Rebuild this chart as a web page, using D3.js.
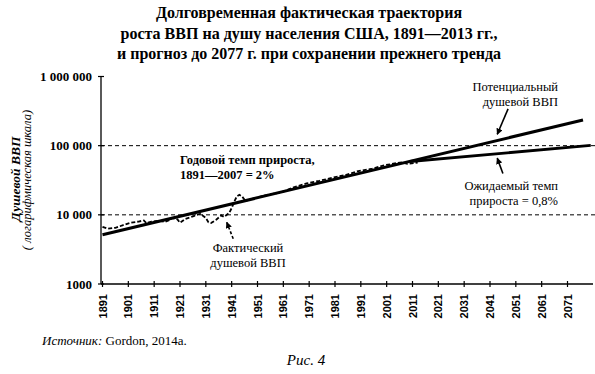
<!DOCTYPE html>
<html>
<head>
<meta charset="utf-8">
<script src="https://cdn.jsdelivr.net/npm/d3@7"></script>
<style>
body{margin:0;background:#fff;}
svg{display:block;}
.serif{font-family:"Liberation Serif","Times New Roman",serif;}
</style>
</head>
<body>
<svg class="svg" width="595" height="374"></svg>
<script>
// фактический душевой ВВП (оценка по рисунку)
var factYears=[1891,1893,1896,1899,1902,1905,1907,1908,1910,1913,1915,1917,1918,1920,1921,1923,1926,1929,1930,1931,1932,1933,1935,1937,1938,1940,1941,1942,1943,1944,1945,1946,1947,1950,1955,1960,1965,1970,1975,1980,1985,1990,1995,2000,2005,2007,2009,2013];
var factValues=[6700,6300,6500,7100,7700,8000,8300,7600,8000,8200,7900,8400,9000,8600,7700,8700,9500,10400,9600,9000,7800,7600,8500,9800,9300,10600,12500,15500,18500,19500,18500,16500,16200,17500,19500,21000,25000,28500,31000,34500,37500,43000,46000,52000,56000,57500,54500,57000];
// тренд 2% и прогноз 0,8%
var trendYears=[1891,2077];
var trendValues=[5150,235000];
var expYears=[2010,2080];
var expValues=[59000,101000];
var tickYears=d3.range(1891,2072,10);
var yTicks=[1000,10000,100000,1000000];
var gridValues=[10000,100000];
// стрелки аннотаций: [год0, знач0, год1, знач1]
var arrowPot=[2048,340000,2043.8,146000];
var arrowExp=[2046,39500,2043.8,66000];
var arrowFact=[1941.6,4500,1939.1,7800];

var svg=d3.select(".svg");
var x=d3.scaleLinear().domain([1891,2071]).range([102.5,567.5]);
var y=d3.scaleLog().domain([1000,1000000]).range([284,76.5]);
var axisL=101, axisR=593;

svg.append("defs").append("marker").attr("id","ah")
  .attr("viewBox","0 0 10 10").attr("refX",9).attr("refY",5)
  .attr("markerWidth",4).attr("markerHeight",4).attr("orient","auto")
  .append("path").attr("d","M0,0 L10,5 L0,10 Z").attr("fill","#000");

// заголовок
var title=["Долговременная фактическая траектория","роста ВВП на душу населения США, 1891—2013 гг.,","и прогноз до 2077 г. при сохранении прежнего тренда"];
svg.append("g").selectAll("text").data(title).enter().append("text")
  .attr("class","serif").attr("x",309).attr("y",function(d,i){return 18+i*20.5;})
  .attr("text-anchor","middle").attr("font-size",16).attr("font-weight","bold")
  .text(function(d){return d;});

// сетка
svg.append("g").selectAll("line").data(gridValues).enter().append("line")
  .attr("x1",axisL).attr("x2",595).attr("y1",function(d){return y(d);}).attr("y2",function(d){return y(d);})
  .attr("stroke","#000").attr("stroke-width",1).attr("stroke-dasharray","4,3");

// оси
svg.append("line").attr("x1",axisL).attr("x2",axisL).attr("y1",y(1000000)).attr("y2",y(1000)).attr("stroke","#000").attr("stroke-width",1.3);
svg.append("line").attr("x1",axisL).attr("x2",axisR).attr("y1",y(1000)).attr("y2",y(1000)).attr("stroke","#000").attr("stroke-width",1.3);
var fmt=function(d){ return d>=10000? d3.format(",")(d).replace(/,/g," ") : String(d); };
var yg=svg.append("g");
yg.selectAll("line").data(yTicks).enter().append("line")
  .attr("x1",axisL-3).attr("x2",axisL+3).attr("y1",function(d){return y(d);}).attr("y2",function(d){return y(d);})
  .attr("stroke","#000").attr("stroke-width",1.2);
yg.selectAll("text").data(yTicks).enter().append("text")
  .attr("class","serif").attr("x",92).attr("y",function(d){return y(d)+4.5;})
  .attr("text-anchor","end").attr("font-size",13).attr("font-weight","bold")
  .text(fmt);
var xg=svg.append("g");
xg.selectAll("line").data(tickYears).enter().append("line")
  .attr("x1",function(d){return x(d);}).attr("x2",function(d){return x(d);})
  .attr("y1",y(1000)-3).attr("y2",y(1000)+3).attr("stroke","#000").attr("stroke-width",1.2);
xg.selectAll("text").data(tickYears).enter().append("text")
  .attr("transform",function(d){return "translate("+(x(d)+4)+",294) rotate(-90)";})
  .attr("text-anchor","end").attr("font-family","Liberation Sans, Arial, sans-serif")
  .attr("font-size",11).attr("font-weight","bold").text(function(d){return d;});

// подпись оси Y
svg.append("text").attr("class","serif").attr("transform","translate(20,179) rotate(-90)")
  .attr("text-anchor","middle").attr("font-size",13.5).attr("font-weight","bold").attr("font-style","italic")
  .text("Душевой ВВП");
svg.append("text").attr("class","serif").attr("transform","translate(31,180) rotate(-90)")
  .attr("text-anchor","middle").attr("font-size",12.5).attr("font-style","italic")
  .text("( логарифмическая шкала)");

// линии
var line=d3.line().x(function(d){return x(d[0]);}).y(function(d){return y(d[1]);});
svg.append("path").attr("d",line(d3.zip(trendYears,trendValues))).attr("fill","none").attr("stroke","#000").attr("stroke-width",3);
svg.append("path").attr("d",line(d3.zip(expYears,expValues))).attr("fill","none").attr("stroke","#000").attr("stroke-width",2.8);
svg.append("path").attr("d",line(d3.zip(factYears,factValues))).attr("fill","none").attr("stroke","#000").attr("stroke-width",1.8).attr("stroke-dasharray","4,2");

// стрелки
function arrow(a,dash){
  svg.append("line").attr("x1",x(a[0])).attr("y1",y(a[1])).attr("x2",x(a[2])).attr("y2",y(a[3]))
    .attr("stroke","#000").attr("stroke-width",1.6).attr("stroke-dasharray",dash?"3,2":null)
    .attr("marker-end","url(#ah)");
}
arrow(arrowPot,false);
arrow(arrowExp,false);
arrow(arrowFact,true);

// подписи
function label(lines,xx,yy,anchor,bold,size){
  svg.append("g").selectAll("text").data(lines).enter().append("text").attr("class","serif")
    .attr("x",xx).attr("y",function(d,i){return yy+i*15;}).attr("text-anchor",anchor)
    .attr("font-size",size).attr("font-weight",bold?"bold":"normal").text(function(d){return d;});
}
label(["Годовой темп прироста,","1891—2007 = 2%"],180,164,"start",true,12.5);
label(["Фактический","душевой ВВП"],248,252,"middle",false,12.5);
label(["Потенциальный","душевой ВВП"],558,91,"end",false,12.5);
label(["Ожидаемый темп","прироста = 0,8%"],558,190,"end",false,12.5);

// источник
var src=svg.append("text").attr("class","serif").attr("x",42).attr("y",345).attr("font-size",13);
src.append("tspan").attr("font-style","italic").text("Источник:");
src.append("tspan").text(" Gordon, 2014a.");
svg.append("text").attr("class","serif").attr("x",306).attr("y",365).attr("text-anchor","middle")
  .attr("font-size",15).attr("font-style","italic").text("Рис. 4");
</script>
</body>
</html>
